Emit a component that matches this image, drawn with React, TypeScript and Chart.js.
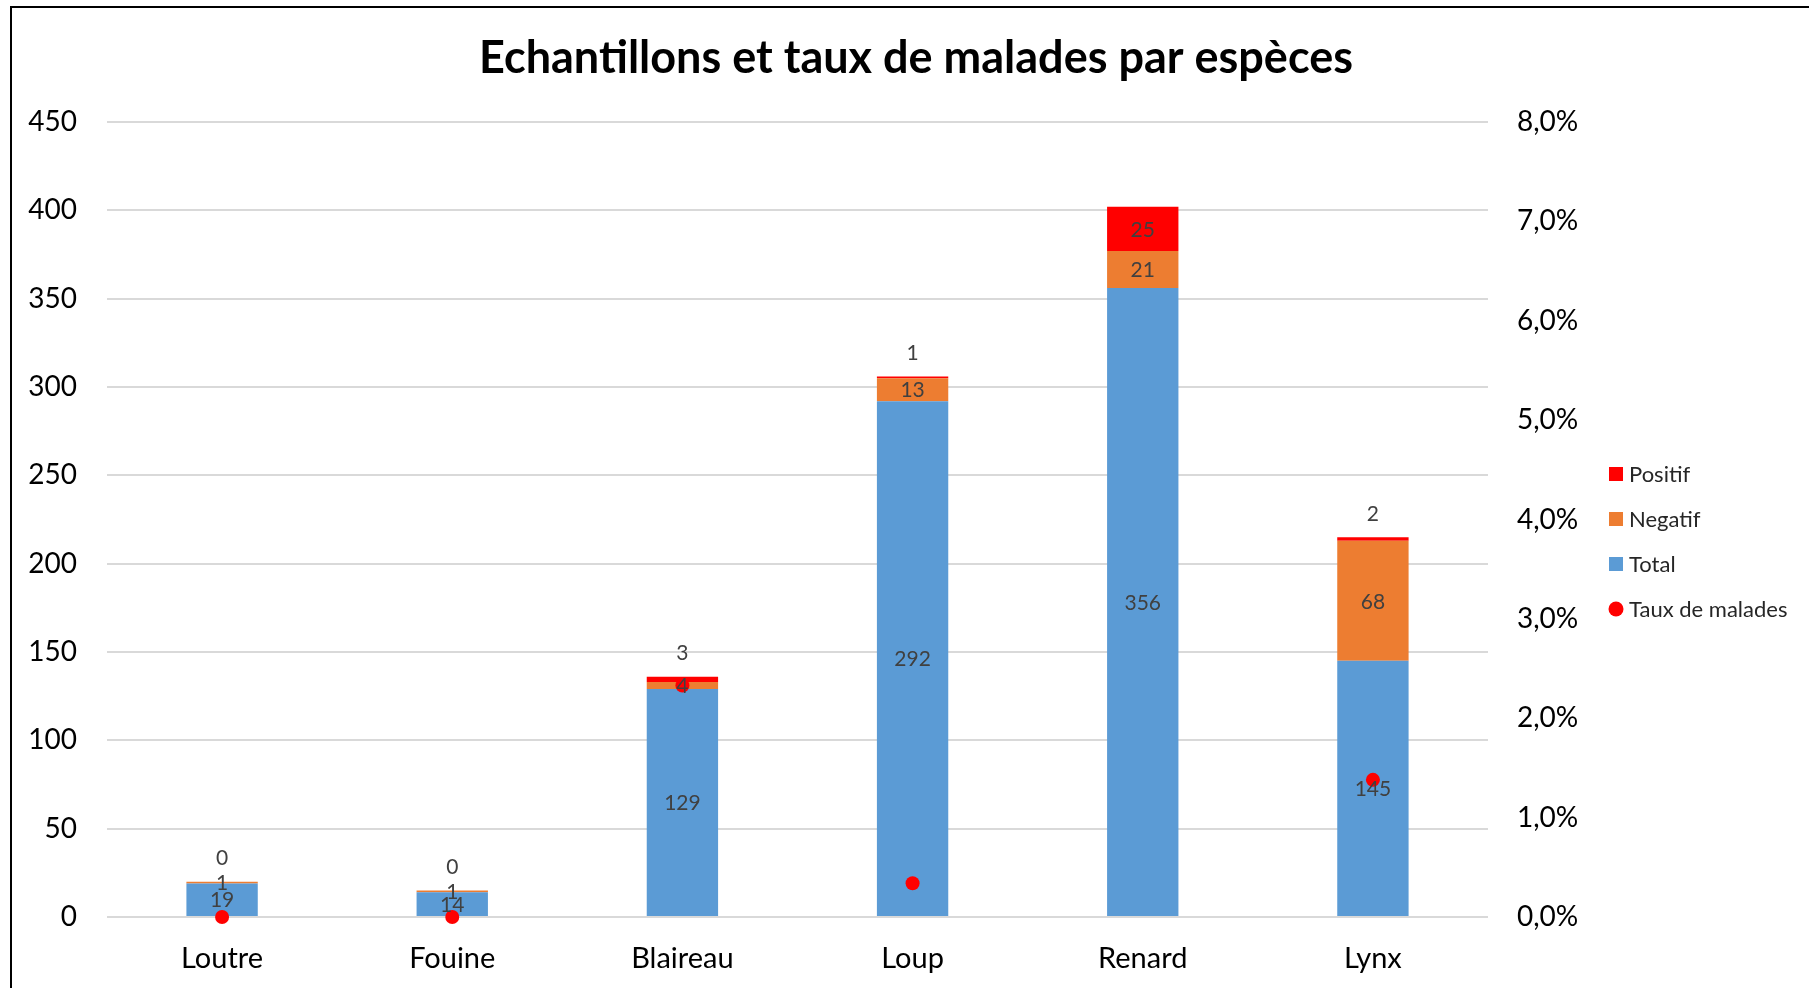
import React, { useEffect, useRef } from "react";
import { Chart, registerables } from "chart.js";

Chart.register(...registerables);

const TITLE = "Echantillons et taux de malades par espèces";
const categories = ["Loutre", "Fouine", "Blaireau", "Loup", "Renard", "Lynx"];
const totalValues = [19, 14, 129, 292, 356, 145];
const negatifValues = [1, 1, 4, 13, 21, 68];
const positifValues = [0, 0, 3, 1, 25, 2];
const tauxValues = [0, 0, 2.33, 0.34, 7.02, 1.38];
const seriesNames = ["Total", "Negatif", "Positif", "Taux de malades"];
const seriesColors = ["#5B9BD5", "#ED7D31", "#FF0000", "#FF0000"];
const legendOrder = [2, 1, 0, 3];

const FONT = "Lato, 'Noto Sans', sans-serif";

const titlePlugin = {
  id: "customTitle",
  afterDraw(chart: any) {
    const ctx = chart.ctx;
    ctx.save();
    ctx.font = `bold 45px ${FONT}`;
    ctx.fillStyle = "#000";
    ctx.textAlign = "center";
    ctx.textBaseline = "alphabetic";
    ctx.fillText(TITLE, 916, 73);
    ctx.restore();
  },
};

const legendPlugin = {
  id: "customLegend",
  afterDraw(chart: any) {
    const ctx = chart.ctx;
    ctx.save();
    ctx.font = `22px ${FONT}`;
    ctx.textBaseline = "middle";
    ctx.textAlign = "left";
    legendOrder.forEach((di, k) => {
      const ds = chart.data.datasets[di];
      const y = 474 + k * 45;
      ctx.fillStyle = ds.type === "line" ? ds.pointBackgroundColor : ds.backgroundColor;
      if (ds.type === "line") {
        ctx.beginPath();
        ctx.arc(1616, y, 7.5, 0, Math.PI * 2);
        ctx.fill();
      } else {
        ctx.fillRect(1609, y - 7, 14, 14);
      }
      ctx.fillStyle = "#262626";
      ctx.fillText(ds.label, 1629, y + 1);
    });
    ctx.restore();
  },
};

const labelPlugin = {
  id: "barLabels",
  afterDatasetsDraw(chart: any) {
    const ctx = chart.ctx;
    ctx.save();
    ctx.font = `21px ${FONT}`;
    ctx.fillStyle = "#404040";
    ctx.textAlign = "center";
    ctx.textBaseline = "middle";
    [0, 1, 2].forEach((di) => {
      const meta = chart.getDatasetMeta(di);
      const vals = chart.data.datasets[di].data as number[];
      meta.data.forEach((el: any, i: number) => {
        const v = vals[i];
        let y = (el.y + el.base) / 2;
        if (di === 2 && v < 10) y = el.y - 24;
        ctx.fillText(String(v), el.x, y + 1);
      });
    });
    ctx.restore();
  },
};

export default function App() {
  const ref = useRef<HTMLCanvasElement | null>(null);
  useEffect(() => {
    if (!ref.current) return;
    const tickFont = { family: FONT, size: 28 };
    const catFont = { family: FONT, size: 29 };
    const chart = new Chart(ref.current, {
      type: "bar",
      data: {
        labels: categories,
        datasets: [
          {
            label: seriesNames[0],
            data: totalValues,
            backgroundColor: seriesColors[0],
            categoryPercentage: 1,
            barPercentage: 0.31,
            yAxisID: "y",
          },
          {
            label: seriesNames[1],
            data: negatifValues,
            backgroundColor: seriesColors[1],
            categoryPercentage: 1,
            barPercentage: 0.31,
            yAxisID: "y",
          },
          {
            label: seriesNames[2],
            data: positifValues,
            backgroundColor: seriesColors[2],
            categoryPercentage: 1,
            barPercentage: 0.31,
            yAxisID: "y",
          },
          {
            type: "line",
            label: seriesNames[3],
            data: tauxValues,
            showLine: false,
            clip: false,
            pointRadius: 7,
            pointHoverRadius: 7,
            pointBorderWidth: 0,
            pointBackgroundColor: seriesColors[3],
            borderColor: seriesColors[3],
            backgroundColor: seriesColors[3],
            yAxisID: "y1",
            order: -1,
          } as any,
        ],
      },
      options: {
        responsive: false,
        maintainAspectRatio: false,
        animation: false,
        devicePixelRatio: 1,
        layout: { padding: { top: 122, right: 201, left: 0, bottom: 0 } },
        plugins: {
          legend: { display: false },
          title: { display: false },
          tooltip: { enabled: false },
        },
        scales: {
          x: {
            stacked: true,
            grid: { display: false, drawTicks: false },
            border: { display: false },
            ticks: { font: catFont, color: "#000", padding: 24 },
            afterFit(s: any) {
              s.height = 71;
            },
          },
          y: {
            stacked: true,
            min: 0,
            max: 450,
            ticks: { stepSize: 50, padding: 30, font: tickFont, color: "#000" },
            grid: { color: "#D9D9D9", lineWidth: 2, drawTicks: false },
            border: { display: false },
            afterFit(s: any) {
              s.width = 107;
            },
          },
          y1: {
            position: "right",
            min: 0,
            max: 8,
            ticks: {
              stepSize: 1,
              padding: 29,
              font: tickFont,
              color: "#000",
              callback: (v: any) => Number(v).toFixed(1).replace(".", ",") + "%",
            },
            grid: { display: false, drawTicks: false },
            border: { display: false },
            afterFit(s: any) {
              s.width = 120;
            },
          },
        },
      } as any,
      plugins: [labelPlugin, titlePlugin, legendPlugin],
    });
    return () => chart.destroy();
  }, []);

  return (
    <div
      style={{
        position: "fixed",
        left: 0,
        top: 0,
        width: 1809,
        height: 988,
        overflow: "hidden",
        background: "#fff",
      }}
    >
      <canvas
        ref={ref}
        width={1809}
        height={988}
        style={{ position: "absolute", left: 0, top: 0, width: 1809, height: 988 }}
      />
      <div
        style={{
          position: "absolute",
          left: 10,
          top: 6,
          width: 3000,
          height: 3000,
          border: "2px solid #000",
          pointerEvents: "none",
        }}
      />
    </div>
  );
}
